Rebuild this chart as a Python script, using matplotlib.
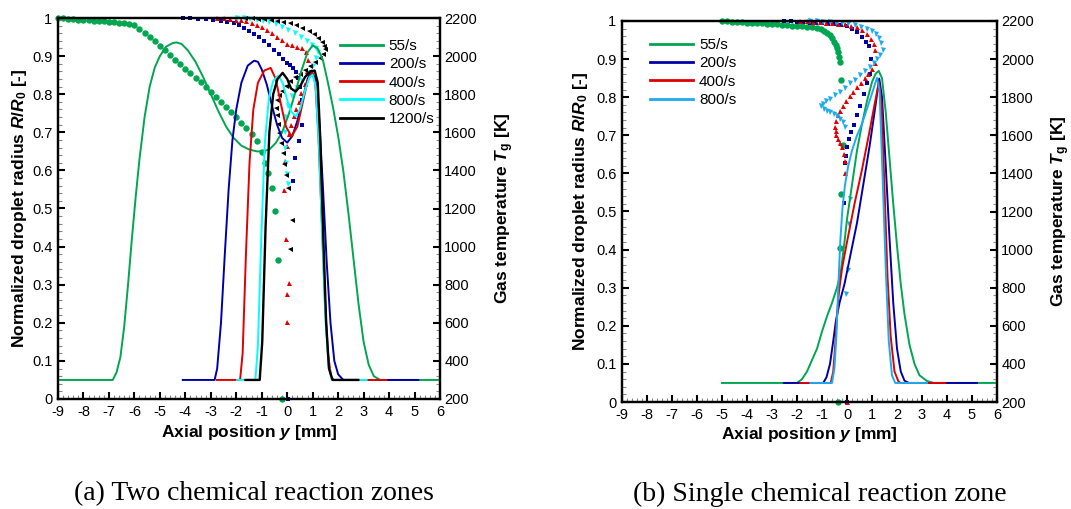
import matplotlib
matplotlib.use('Agg')
import matplotlib.pyplot as plt
from matplotlib.lines import Line2D
from matplotlib.ticker import MultipleLocator, FuncFormatter

plt.rcParams['font.family'] = 'Liberation Sans'
plt.rcParams['axes.unicode_minus'] = False
plt.rcParams['mathtext.fontset'] = 'custom'
plt.rcParams['mathtext.rm'] = 'Liberation Sans:bold'
plt.rcParams['mathtext.it'] = 'Liberation Sans:bold:italic'
plt.rcParams['mathtext.bf'] = 'Liberation Sans:bold'

GREEN = '#00a650'
BLUE = '#0000a8'
RED = '#e00000'
CYAN = '#00ffff'
SKY = '#1eaaf0'

# ---------------- (a) two reaction zones: gas temperature [K] ----------------
a_x_55 = [-9, -7.5, -6.85, -6.7, -6.55, -6.4, -6.25, -6.1, -5.95, -5.8, -5.6, -5.4, -5.2, -5.0,
          -4.75, -4.5, -4.35, -4.15, -3.9, -3.6, -3.3, -3.0, -2.7, -2.4, -2.1, -1.8, -1.5, -1.2,
          -0.95, -0.7, -0.45, -0.2, 0.05, 0.3, 0.55, 0.8, 1.0, 1.2, 1.4, 1.6, 1.8, 2.0, 2.2, 2.4,
          2.6, 2.8, 3.0, 3.2, 3.4, 3.65, 6.0]
a_T_55 = [300, 300, 300, 340, 420, 580, 800, 1040, 1260, 1460, 1680, 1840, 1940, 2000,
          2050, 2068, 2072, 2064, 2030, 1970, 1890, 1800, 1710, 1630, 1570, 1530, 1510, 1500,
          1500, 1510, 1544, 1600, 1690, 1800, 1920, 2020, 2056, 2040, 1980, 1860, 1730, 1580, 1400, 1180,
          940, 700, 500, 380, 320, 300, 300]

a_x_200 = [-4.1, -2.85, -2.75, -2.6, -2.45, -2.3, -2.15, -2.0, -1.8, -1.55, -1.3, -1.15, -1.0, -0.8,
           -0.6, -0.4, -0.2, 0.0, 0.2, 0.4, 0.6, 0.8, 0.95, 1.1, 1.25, 1.4, 1.55, 1.7, 1.85, 2.0, 2.2, 5.15]
a_T_200 = [300, 300, 360, 600, 960, 1300, 1560, 1720, 1860, 1950, 1976, 1970, 1930, 1850,
           1740, 1640, 1570, 1546, 1580, 1660, 1770, 1880, 1924, 1880, 1680, 1320, 920, 600, 400, 330, 300, 300]

a_x_400 = [-2.76, -1.85, -1.75, -1.62, -1.48, -1.33, -1.15, -0.9, -0.65, -0.45, -0.25, -0.05, 0.17,
           0.4, 0.6, 0.8, 0.98, 1.1, 1.22, 1.35, 1.48, 1.6, 1.72, 1.82, 3.9]
a_T_400 = [300, 300, 440, 960, 1440, 1720, 1860, 1924, 1938, 1880, 1750, 1630, 1578,
           1630, 1750, 1870, 1916, 1860, 1600, 1160, 720, 440, 320, 300, 300]

a_x_800 = [-1.97, -1.25, -1.15, -1.02, -0.88, -0.72, -0.55, -0.35, -0.18, 0.0, 0.15, 0.33, 0.5,
           0.7, 0.88, 1.0, 1.12, 1.25, 1.38, 1.5, 1.62, 1.75, 3.12]
a_T_800 = [300, 300, 480, 1040, 1540, 1780, 1870, 1898, 1860, 1770, 1710, 1684, 1720,
           1820, 1890, 1902, 1840, 1520, 1040, 620, 380, 300, 300]

a_x_1200 = [-1.64, -1.08, -0.98, -0.85, -0.7, -0.55, -0.38, -0.18, 0.0, 0.15, 0.33, 0.5, 0.7,
            0.9, 1.08, 1.2, 1.3, 1.42, 1.53, 1.64, 1.78, 2.79]
a_T_1200 = [300, 300, 500, 1100, 1600, 1800, 1880, 1912, 1880, 1830, 1814, 1840, 1890,
            1920, 1924, 1860, 1560, 1040, 600, 360, 300, 300]

# ---------------- (a) droplet radius R/R0 ----------------
a_dx_55 = [-9.0, -8.8, -8.6, -8.4, -8.2, -8.0, -7.8, -7.6, -7.4, -7.2, -7.0, -6.8, -6.6, -6.4,
           -6.2, -6.0, -5.8, -5.6, -5.4, -5.2, -5.0, -4.8, -4.6, -4.4, -4.2, -4.0, -3.8, -3.6,
           -3.4, -3.2, -3.0, -2.8, -2.6, -2.4, -2.2, -2.0, -1.8, -1.6, -1.4, -1.2,
           -1.0, -0.87, -0.74, -0.61, -0.48, -0.35, -0.22]
a_R_55 = [1.0, 0.999, 0.998, 0.997, 0.996, 0.995, 0.994, 0.993, 0.992, 0.991, 0.99, 0.989, 0.988, 0.987,
          0.985, 0.981, 0.972, 0.961, 0.95, 0.939, 0.927, 0.915, 0.903, 0.891, 0.879, 0.867, 0.855, 0.843,
          0.831, 0.819, 0.806, 0.793, 0.78, 0.767, 0.753, 0.739, 0.725, 0.711, 0.696, 0.678,
          0.648, 0.619, 0.593, 0.554, 0.493, 0.366, 0.0]

a_dx_200 = [-4.1, -3.8, -3.5, -3.2, -2.9, -2.6, -2.35, -2.1, -1.9, -1.7, -1.5, -1.3, -1.1, -0.9,
            -0.7, -0.5, -0.32, -0.15, 0.0, 0.12, 0.24, 0.35, 0.44, 0.52, 0.57, 0.6, 0.47, 0.32, 0.21, 0.05]
a_R_200 = [1.0, 0.999, 0.998, 0.997, 0.995, 0.993, 0.99, 0.986, 0.981, 0.975, 0.967, 0.959, 0.95, 0.94,
           0.929, 0.917, 0.905, 0.893, 0.882, 0.876, 0.869, 0.857, 0.843, 0.82, 0.786, 0.72, 0.676, 0.633, 0.571, 0.0]

a_dx_400 = [-2.76, -2.5, -2.25, -2.0, -1.8, -1.6, -1.4, -1.2, -1.0, -0.8, -0.6, -0.4, -0.2, 0.0,
            0.2, 0.4, 0.58, 0.72, 0.8, 0.78, 0.68, 0.56, 0.45, 0.35, 0.25, 0.15, 0.07, 0.0,
            -0.07, -0.13, -0.05, 0.06, -0.02, -0.02]
a_R_400 = [1.0, 0.999, 0.998, 0.996, 0.994, 0.991, 0.987, 0.982, 0.976, 0.968, 0.96, 0.951, 0.942, 0.933,
           0.928, 0.924, 0.92, 0.912, 0.89, 0.86, 0.828, 0.802, 0.78, 0.762, 0.742, 0.72, 0.695, 0.665,
           0.625, 0.548, 0.42, 0.304, 0.276, 0.202]

a_dx_800 = [-1.97, -1.7, -1.45, -1.2, -0.95, -0.7, -0.45, -0.2, 0.05, 0.3, 0.55, 0.78, 0.98, 1.13,
            1.22, 1.15, 1.0, 0.8, 0.6, 0.4, 0.2, 0.05, -0.05, -0.1, -0.08, -0.05, -0.02, 0.02]
a_R_800 = [1.0, 0.999, 0.998, 0.996, 0.993, 0.989, 0.984, 0.977, 0.969, 0.96, 0.95, 0.94, 0.93, 0.922,
           0.912, 0.895, 0.875, 0.855, 0.835, 0.815, 0.795, 0.77, 0.74, 0.7, 0.66, 0.62, 0.59, 0.565]

a_dx_1200 = [-1.64, -1.4, -1.15, -0.9, -0.65, -0.4, -0.15, 0.1, 0.35, 0.6, 0.85, 1.05, 1.22, 1.36,
             1.45, 1.48, 1.4, 1.29, 1.1, 0.9, 0.7, 0.5, 0.3, 0.11, -0.05, -0.22, -0.33, -0.41,
             -0.44, -0.42, -0.37, -0.31, -0.25, -0.18, -0.11, -0.04, 0.04, 0.17, 0.1]
a_R_1200 = [1.0, 0.999, 0.998, 0.997, 0.995, 0.993, 0.99, 0.986, 0.981, 0.975, 0.967, 0.958, 0.948, 0.936,
            0.927, 0.919, 0.906, 0.895, 0.884, 0.873, 0.863, 0.854, 0.844, 0.834, 0.822, 0.808, 0.797, 0.784,
            0.765, 0.745, 0.722, 0.697, 0.672, 0.645, 0.618, 0.588, 0.555, 0.471, 0.394]

# ---------------- (b) single reaction zone: gas temperature [K] ----------------
b_x_55 = [-5.0, -2.0, -1.8, -1.6, -1.4, -1.2, -1.0, -0.8, -0.6, -0.4, -0.25, -0.1, 0.0, 0.2, 0.4,
          0.6, 0.8, 1.0, 1.15, 1.27, 1.4, 1.55, 1.7, 1.85, 2.0, 2.15, 2.3, 2.5, 2.7, 2.9, 3.2, 3.47, 6.0]
b_T_55 = [300, 300, 320, 360, 420, 480, 570, 650, 720, 800, 880, 1040, 1160, 1340, 1520,
          1660, 1780, 1880, 1924, 1938, 1900, 1720, 1480, 1240, 1020, 820, 660, 500, 400, 340, 310, 300, 300]

b_x_200 = [-2.53, -0.95, -0.82, -0.68, -0.55, -0.45, -0.3, -0.1, 0.15, 0.4, 0.65, 0.9, 1.1, 1.29,
           1.4, 1.55, 1.7, 1.85, 2.0, 2.15, 2.3, 2.47, 5.2]
b_T_200 = [300, 300, 330, 400, 520, 620, 720, 820, 980, 1140, 1340, 1540, 1720, 1898,
           1800, 1440, 1060, 720, 480, 360, 312, 300, 300]

b_x_400 = [-1.87, -0.65, -0.55, -0.47, -0.4, -0.32, -0.2, 0.0, 0.3, 0.6, 0.9, 1.1, 1.28, 1.38,
           1.5, 1.62, 1.75, 1.9, 2.05, 2.13, 3.93]
b_T_400 = [300, 300, 360, 500, 660, 780, 900, 1040, 1240, 1420, 1620, 1760, 1880, 1760,
           1320, 860, 540, 360, 310, 300, 300]

b_x_800 = [-1.47, -0.6, -0.5, -0.42, -0.35, -0.27, -0.18, -0.08, 0.05, 0.2, 0.4, 0.6, 0.8, 1.0,
           1.2, 1.3, 1.42, 1.55, 1.67, 1.8, 1.93, 3.2]
b_T_800 = [300, 300, 380, 560, 800, 1040, 1220, 1340, 1440, 1520, 1600, 1660, 1740, 1820,
           1902, 1840, 1400, 900, 520, 340, 300, 300]

# ---------------- (b) droplet radius R/R0 ----------------
b_dx_55 = [-5.0, -4.8, -4.6, -4.4, -4.2, -4.0, -3.8, -3.6, -3.4, -3.2, -3.0, -2.8, -2.6, -2.4,
           -2.2, -2.0, -1.8, -1.6, -1.4, -1.2, -1.05, -0.92, -0.8, -0.7, -0.6, -0.52, -0.46, -0.41,
           -0.37, -0.33, -0.29, -0.23, -0.17, -0.23, -0.29, -0.36]
b_R_55 = [1.0, 0.999, 0.998, 0.998, 0.997, 0.996, 0.995, 0.995, 0.994, 0.993, 0.992, 0.991, 0.99, 0.989,
          0.988, 0.987, 0.986, 0.985, 0.983, 0.981, 0.978, 0.974, 0.968, 0.962, 0.955, 0.946, 0.937, 0.928,
          0.919, 0.906, 0.892, 0.844, 0.674, 0.545, 0.405, 0.0]

b_dx_200 = [-2.53, -2.25, -2.0, -1.75, -1.5, -1.25, -1.0, -0.75, -0.5, -0.25, 0.0, 0.2, 0.4, 0.6,
            0.75, 0.87, 0.97, 0.92, 0.8, 0.66, 0.53, 0.39, 0.26, 0.16, 0.07, 0.0, -0.05, -0.09, -0.13, 0.0]
b_R_200 = [1.0, 0.999, 0.998, 0.997, 0.996, 0.995, 0.994, 0.993, 0.991, 0.989, 0.986, 0.98, 0.97, 0.958,
           0.946, 0.934, 0.9, 0.862, 0.838, 0.808, 0.778, 0.752, 0.728, 0.709, 0.69, 0.668, 0.645, 0.626, 0.522, 0.0]

b_dx_400 = [-1.87, -1.6, -1.35, -1.1, -0.85, -0.6, -0.35, -0.1, 0.15, 0.4, 0.6, 0.8, 0.95, 1.08,
            1.13, 1.1, 0.98, 0.84, 0.7, 0.55, 0.4, 0.25, 0.1, -0.05, -0.18, -0.3, -0.38, -0.44,
            -0.47, -0.46, -0.43, -0.36, -0.28, -0.2, -0.14, -0.1, -0.07, 0.0]
b_R_400 = [1.0, 0.999, 0.998, 0.997, 0.996, 0.995, 0.993, 0.991, 0.988, 0.983, 0.976, 0.965, 0.953, 0.94,
           0.925, 0.89, 0.873, 0.862, 0.85, 0.838, 0.826, 0.814, 0.802, 0.79, 0.778, 0.765, 0.752, 0.738,
           0.722, 0.71, 0.7, 0.69, 0.68, 0.668, 0.652, 0.632, 0.602, 0.0]

b_dx_800 = [-1.47, -1.2, -0.95, -0.7, -0.45, -0.2, 0.05, 0.3, 0.55, 0.8, 1.0, 1.15, 1.27, 1.37,
            1.44, 1.32, 1.2, 1.06, 0.93, 0.73, 0.53, 0.33, 0.13, -0.07, -0.27, -0.47, -0.67, -0.83,
            -0.95, -1.03, -0.93, -0.8, -0.67, -0.53, -0.4, -0.28, -0.17, -0.08, 0.1, 0.07, 0.03, -0.03]
b_R_800 = [1.0, 0.999, 0.998, 0.997, 0.996, 0.994, 0.992, 0.989, 0.985, 0.98, 0.974, 0.965, 0.955, 0.942,
           0.925, 0.912, 0.9, 0.89, 0.879, 0.868, 0.857, 0.846, 0.836, 0.825, 0.814, 0.805, 0.796, 0.789,
           0.783, 0.776, 0.77, 0.765, 0.76, 0.755, 0.75, 0.744, 0.735, 0.722, 0.534, 0.468, 0.346, 0.284]


def style_axes(ax, ax2):
    ax.set_xlim(-9, 6)
    ax.set_ylim(0, 1)
    ax2.set_ylim(200, 2200)
    ax.xaxis.set_major_locator(MultipleLocator(1))
    ax.xaxis.set_minor_locator(MultipleLocator(0.2))
    ax.yaxis.set_major_locator(MultipleLocator(0.1))
    ax.yaxis.set_minor_locator(MultipleLocator(0.02))
    ax2.yaxis.set_major_locator(MultipleLocator(200))
    ax2.yaxis.set_minor_locator(MultipleLocator(40))
    ax.yaxis.set_major_formatter(FuncFormatter(lambda v, p: f'{v:g}'))

    for a in (ax, ax2):
        for s in a.spines.values():
            s.set_linewidth(1.6)
        a.tick_params(which='major', direction='in', length=5, width=1.5,
                      labelsize=10.5, pad=3)
        a.tick_params(which='minor', direction='in', length=3, width=0.8,
                      color='#8a8a8a')
    ax.tick_params(axis='x', which='both', top=False, pad=4)
    ax.tick_params(axis='y', which='both', right=False, pad=4)

    ax.set_xlabel('Axial position $y$ [mm]', fontsize=12.5, fontweight='bold')
    ax.set_ylabel('Normalized droplet radius $R$/$R_\\mathrm{0}$ [-]',
                  fontsize=12.5, fontweight='bold')
    ax2.set_ylabel('Gas temperature $T_\\mathrm{g}$ [K]', fontsize=12.5,
                   fontweight='bold')


def draw_panel(ax, ax2, lines, drops, colors, labels, legend_xy):
    # droplet radius as markers on the left axis
    shapes = ['o', 's', '^', 'v', '<']
    sizes = [4.6, 3.4, 3.6, 3.6, 3.6]
    for (dx, dr), c, m, ms in zip(drops, colors, shapes, sizes):
        ax.plot(dx, dr, linestyle='none', marker=m, ms=ms, color=c,
                markeredgewidth=0, clip_on=False)

    # gas temperature as lines on the right axis
    for (x, T), c in zip(lines, colors):
        lw = 1.7 if c == 'black' else 1.4
        ax2.plot(x, T, color=c, lw=lw)

    handles = [Line2D([], [], color=c, lw=2.0) for c in colors]
    ax2.legend(handles, labels, loc='upper left', bbox_to_anchor=legend_xy,
               frameon=False, fontsize=11, handlelength=2.8,
               handletextpad=0.4, labelspacing=0.28, borderpad=0,
               borderaxespad=0)


fig = plt.figure(figsize=(10.71, 5.09), dpi=100)
fig.patch.set_facecolor('white')

ax_a = fig.add_axes([58 / 1071, 110 / 509, 382 / 1071, 381 / 509])
ax_a2 = ax_a.twinx()
ax_b = fig.add_axes([622 / 1071, 107 / 509, 375 / 1071, 381 / 509])
ax_b2 = ax_b.twinx()

draw_panel(ax_a, ax_a2,
           [(a_x_55, a_T_55), (a_x_200, a_T_200), (a_x_400, a_T_400),
            (a_x_800, a_T_800), (a_x_1200, a_T_1200)],
           [(a_dx_55, a_R_55), (a_dx_200, a_R_200), (a_dx_400, a_R_400),
            (a_dx_800, a_R_800), (a_dx_1200, a_R_1200)],
           [GREEN, BLUE, RED, CYAN, 'black'],
           ['55/s', '200/s', '400/s', '800/s', '1200/s'],
           (0.738, 0.945))

draw_panel(ax_b, ax_b2,
           [(b_x_55, b_T_55), (b_x_200, b_T_200), (b_x_400, b_T_400),
            (b_x_800, b_T_800)],
           [(b_dx_55, b_R_55), (b_dx_200, b_R_200), (b_dx_400, b_R_400),
            (b_dx_800, b_R_800)],
           [GREEN, BLUE, RED, SKY],
           ['55/s', '200/s', '400/s', '800/s'],
           (0.075, 0.955))

style_axes(ax_a, ax_a2)
style_axes(ax_b, ax_b2)

ax_a.yaxis.set_label_coords(-0.076, 0.5)
ax_a2.yaxis.set_label_coords(1.139, 0.5)
ax_a.xaxis.set_label_coords(0.5, -0.063)
ax_b.yaxis.set_label_coords(-0.085, 0.5)
ax_b2.yaxis.set_label_coords(1.141, 0.5)
ax_b.xaxis.set_label_coords(0.5, -0.06)

fig.text(254 / 1071, 15 / 509, '(a) Two chemical reaction zones',
         family='Liberation Serif', fontsize=20, ha='center', va='center')
fig.text(820 / 1071, 15 / 509, '(b) Single chemical reaction zone',
         family='Liberation Serif', fontsize=20, ha='center', va='center')

plt.savefig('out.png', dpi=100)
plt.close()
